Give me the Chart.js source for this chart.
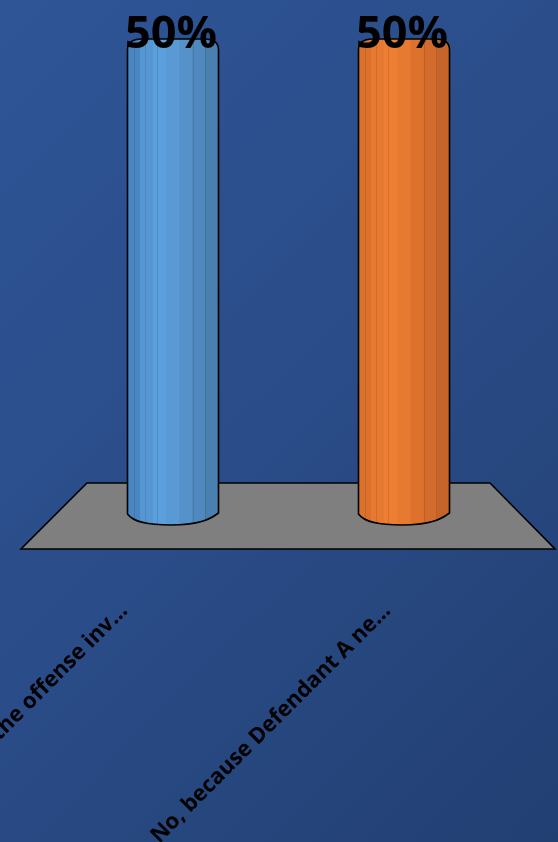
<!DOCTYPE html>
<html>
<head>
<meta charset="utf-8">
<script src="https://cdn.jsdelivr.net/npm/chart.js@4/dist/chart.umd.min.js"></script>
<style>
  html, body { margin: 0; padding: 0; }
  body { width: 558px; height: 842px; background: linear-gradient(135deg, #2f5597 0%, #2a4c88 50%, #223f72 100%); overflow: hidden; }
  #wrap { width: 558px; height: 842px; position: relative; }
</style>
</head>
<body>
<div id="wrap"><canvas id="c"></canvas></div>
<script>
const categories = ["Yes, because the offense inv\u2026", "No, because Defendant A ne\u2026"];
const values = [50, 50];
const valueLabels = ["50%", "50%"];
const barColors = [
  ["#4a86c2", "#5597d3", "#5c9fdd", "#5a9ad4", "#5592c9", "#4f89bd", "#4a80b0"],
  ["#dc712c", "#e87930", "#ee7e32", "#e77a30", "#de722d", "#d26b2b", "#c6642a"]
];
const barPositions = categories.map((c, i) => i);

const floorPlugin = {
  id: 'floor',
  beforeDatasetsDraw(chart) {
    const { ctx } = chart;
    const xb = chart.scales.xb, y = chart.scales.y;
    const x0 = xb.getPixelForValue(0), x1 = xb.getPixelForValue(1);
    const base = y.getPixelForValue(0);
    ctx.save();
    ctx.beginPath();
    ctx.moveTo(x0 - 152, base + 35);
    ctx.lineTo(x1 + 151, base + 35);
    ctx.lineTo(x1 + 86, base - 31);
    ctx.lineTo(x0 - 86, base - 31);
    ctx.closePath();
    ctx.fillStyle = '#7f7f7f';
    ctx.fill();
    ctx.lineWidth = 1.6;
    ctx.strokeStyle = '#000';
    ctx.lineJoin = 'miter';
    ctx.stroke();
    ctx.restore();
  }
};

function cylPath(ctx, L, R, cx, top, bot, rt, rb) {
  ctx.beginPath();
  ctx.moveTo(L, top);
  ctx.bezierCurveTo(L, top - rt * 0.8, L + 6, top - rt, L + 14, top - rt);
  ctx.lineTo(R - 14, top - rt);
  ctx.bezierCurveTo(R - 6, top - rt, R, top - rt * 0.8, R, top);
  ctx.lineTo(R, bot - 1);
  ctx.bezierCurveTo(R - 10, bot + rb * 0.6, R - 22, bot + rb, cx - 2, bot + rb);
  ctx.bezierCurveTo(L + 20, bot + rb, L + 6, bot + rb * 0.75, L, bot);
  ctx.closePath();
}

const cylinderPlugin = {
  id: 'cyl',
  afterDatasetsDraw(chart) {
    const { ctx } = chart;
    const meta = chart.getDatasetMeta(0);
    meta.data.forEach((bar, i) => {
      const p = bar.getProps(['x', 'y', 'base', 'width'], true);
      const L = p.x - p.width / 2, R = p.x + p.width / 2;
      const top = p.y + 2, bot = p.base;
      const rt = 11, rb = 11;
      const cols = barColors[i];
      const g = ctx.createLinearGradient(L, 0, R, 0);
      const n = cols.length;
      cols.forEach((c, k) => {
        g.addColorStop(k / n, c);
        g.addColorStop(Math.min(1, (k + 1) / n - 0.0001), c);
      });
      ctx.save();
      cylPath(ctx, L, R, p.x, top, bot, rt, rb);
      ctx.fillStyle = g;
      ctx.fill();
      ctx.save();
      ctx.clip();
      ctx.strokeStyle = 'rgba(0,0,0,0.10)';
      ctx.lineWidth = 1;
      [0.07, 0.19, 0.32, 0.72, 0.85].forEach(f => {
        const xx = Math.round(L + f * p.width) + 0.5;
        ctx.beginPath();
        ctx.moveTo(xx, top - rt - 2);
        ctx.lineTo(xx, bot + rb + 2);
        ctx.stroke();
      });
      ctx.restore();
      cylPath(ctx, L, R, p.x, top, bot, rt, rb);
      ctx.lineWidth = 1.6;
      ctx.strokeStyle = '#000';
      ctx.stroke();
      ctx.fillStyle = '#000';
      ctx.font = 'bold 45px "Open Sans", sans-serif';
      ctx.textAlign = 'center';
      ctx.textBaseline = 'alphabetic';
      ctx.fillText(valueLabels[i], p.x - 2, p.y);
      ctx.restore();
    });
  }
};

new Chart(document.getElementById('c'), {
  type: 'bar',
  data: {
    labels: categories,
    datasets: [{
      data: values.map((v, i) => ({ x: barPositions[i], y: v })),
      xAxisID: 'xb',
      backgroundColor: 'rgba(0,0,0,0)',
      borderWidth: 0,
      barPercentage: 0.394,
      categoryPercentage: 1.0
    }]
  },
  options: {
    responsive: true,
    maintainAspectRatio: false,
    animation: false,
    devicePixelRatio: 1,
    layout: { padding: { left: 124, right: 171, top: 48, bottom: 0 } },
    plugins: { legend: { display: false }, tooltip: { enabled: false } },
    scales: {
      y: { display: false, min: 0, max: 50 },
      xb: {
        type: 'linear',
        display: false,
        offset: false,
        min: -0.2121,
        max: 0.9264,
        afterBuildTicks(scale) {
          scale.ticks = barPositions.map(v => ({ value: v }));
        }
      },
      x: {
        type: 'category',
        offset: false,
        grid: { display: false, drawTicks: false },
        border: { display: false },
        ticks: {
          autoSkip: false,
          minRotation: 45,
          maxRotation: 45,
          padding: 84,
          color: '#000',
          font: { family: '"Open Sans", sans-serif', weight: 'bold', size: 22 }
        },
        afterFit(scale) {
          scale.height = 328;
          scale.paddingLeft = 0;
          scale.paddingRight = 0;
        }
      }
    }
  },
  plugins: [floorPlugin, cylinderPlugin]
});
</script>
</body>
</html>
